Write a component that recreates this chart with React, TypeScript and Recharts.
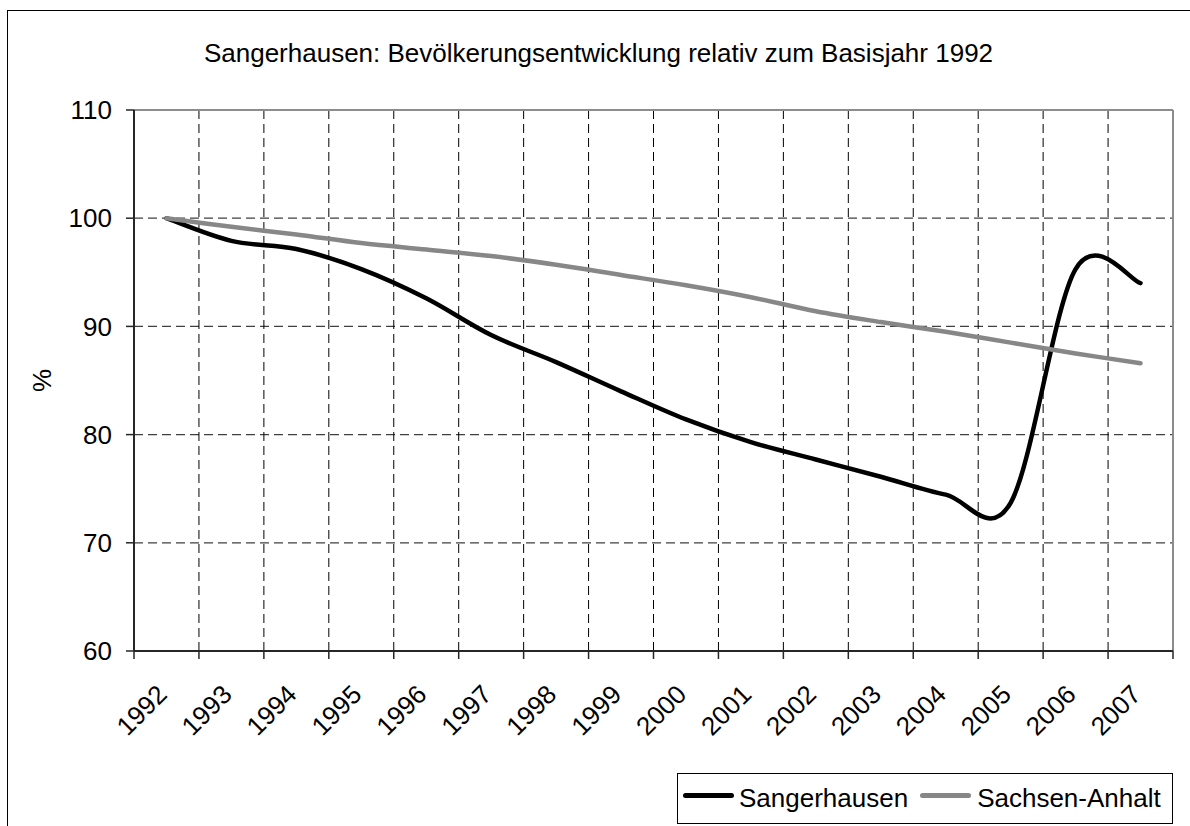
import React from 'react';
import { LineChart, Line, XAxis, YAxis, CartesianGrid, ReferenceLine } from 'recharts';

const years = ['1992', '1993', '1994', '1995', '1996', '1997', '1998', '1999', '2000', '2001', '2002', '2003', '2004', '2005', '2006', '2007'];
const sangerhausen = [100, 97.9, 97.15, 95.3, 92.6, 89.2, 86.7, 84.0, 81.4, 79.3, 77.7, 76.1, 74.45, 73.7, 95.3, 94.0];
const sachsenAnhalt = [100, 99.2, 98.5, 97.7, 97.1, 96.5, 95.7, 94.75, 93.8, 92.7, 91.4, 90.4, 89.5, 88.5, 87.5, 86.6];
const yTicks = [60, 70, 80, 90, 100, 110];

const FONT = '"Liberation Sans", Arial, sans-serif';
const CHART_W = 1190;
const CHART_H = 826;
const MARGIN = { top: 110, right: 17, left: 74, bottom: 95 };
const Y_AXIS_W = 60;
const CAT_W = (CHART_W - MARGIN.left - Y_AXIS_W - MARGIN.right) / years.length;

const data = years.map((year, i) => ({
    idx: i,
    year,
    sangerhausen: sangerhausen[i],
    sachsenAnhalt: sachsenAnhalt[i],
}));

// category boundaries, so grid lines and tick marks fall between the years like in Excel
const bounds = years.map((_, i) => i - 0.5).concat(years.length - 0.5);

// Excel-like smoothed line (Catmull-Rom as cubic bezier)
function excelSmooth(context: any) {
    let pts: [number, number][] = [];
    return {
        areaStart() {},
        areaEnd() {},
        lineStart() {
            pts = [];
        },
        lineEnd() {
            const n = pts.length;
            if (!n) return;
            context.moveTo(pts[0][0], pts[0][1]);
            for (let i = 0; i < n - 1; i++) {
                const p0 = pts[Math.max(i - 1, 0)];
                const p1 = pts[i];
                const p2 = pts[i + 1];
                const p3 = pts[Math.min(i + 2, n - 1)];
                context.bezierCurveTo(
                    p1[0] + (p2[0] - p0[0]) / 6,
                    p1[1] + (p2[1] - p0[1]) / 6,
                    p2[0] - (p3[0] - p1[0]) / 6,
                    p2[1] - (p3[1] - p1[1]) / 6,
                    p2[0],
                    p2[1]
                );
            }
        },
        point(x: number, y: number) {
            pts.push([+x, +y]);
        },
    };
}

function renderYearTick(props: any) {
    const { x, y, payload } = props;
    const i = Math.round(payload.value + 0.5);
    if (i < 0 || i >= years.length) return <g />;
    const ax = x + CAT_W / 2 + 2;
    const ay = y + 35;
    return (
        <text
            x={ax}
            y={ay}
            textAnchor="end"
            fontSize={26}
            fontFamily={FONT}
            fill="#000"
            transform={`rotate(-45, ${ax}, ${ay})`}
        >
            {years[i]}
        </text>
    );
}

function renderPercent(props: any) {
    const vb = props.viewBox || { x: MARGIN.left, y: MARGIN.top, height: 541 };
    const cx = vb.x - 32;
    const cy = vb.y + vb.height / 2;
    return (
        <text
            x={cx}
            y={cy}
            textAnchor="middle"
            dominantBaseline="central"
            fontSize={26}
            fontFamily={FONT}
            fill="#000"
            transform={`rotate(-90, ${cx}, ${cy})`}
        >
            %
        </text>
    );
}

export default function App() {
    return (
        <div style={{ position: 'relative', width: CHART_W, height: CHART_H, background: '#fff', fontFamily: FONT }}>
            <style>{`body{margin:0;overflow:hidden;background:#fff}`}</style>
            <div
                style={{
                    position: 'absolute',
                    left: 7,
                    top: 10,
                    width: 1200,
                    height: 900,
                    border: '1px solid #000',
                    boxSizing: 'border-box',
                }}
            />
            <div
                style={{
                    position: 'absolute',
                    left: 98.5,
                    top: 39.5,
                    width: 1000,
                    textAlign: 'center',
                    fontSize: 26,
                    lineHeight: '26px',
                    color: '#000',
                    whiteSpace: 'nowrap',
                }}
            >
                Sangerhausen: Bevölkerungsentwicklung relativ zum Basisjahr 1992
            </div>
            <div style={{ position: 'absolute', left: 0, top: 0 }}>
                <LineChart width={CHART_W} height={CHART_H} data={data} margin={MARGIN}>
                    <CartesianGrid vertical={false} stroke="#404040" strokeWidth={1.3} strokeDasharray="9 5" />
                    <CartesianGrid horizontal={false} stroke="#000" strokeWidth={1} strokeDasharray="9 5" />
                    <XAxis
                        type="number"
                        dataKey="idx"
                        domain={[-0.5, years.length - 0.5]}
                        ticks={bounds}
                        interval={0}
                        height={80}
                        tickSize={8}
                        axisLine={{ stroke: '#262626', strokeWidth: 2 }}
                        tickLine={{ stroke: '#262626', strokeWidth: 1.5 }}
                        tick={renderYearTick}
                    />
                    <YAxis
                        type="number"
                        domain={[60, 110]}
                        ticks={yTicks}
                        interval={0}
                        width={Y_AXIS_W}
                        tickSize={8}
                        tickMargin={14}
                        tick={{ fill: '#000', fontSize: 26, fontFamily: FONT }}
                        axisLine={{ stroke: '#262626', strokeWidth: 2 }}
                        tickLine={{ stroke: '#262626', strokeWidth: 1.5 }}
                        label={renderPercent}
                    />
                    <ReferenceLine y={110} stroke="#8c8c8c" strokeWidth={2} />
                    <ReferenceLine x={years.length - 0.5} stroke="#8c8c8c" strokeWidth={2} />
                    <Line
                        dataKey="sangerhausen"
                        name="Sangerhausen"
                        type={excelSmooth as any}
                        stroke="#000"
                        strokeWidth={4.5}
                        strokeLinecap="round"
                        dot={false}
                        activeDot={false}
                        isAnimationActive={false}
                    />
                    <Line
                        dataKey="sachsenAnhalt"
                        name="Sachsen-Anhalt"
                        type={excelSmooth as any}
                        stroke="#878787"
                        strokeWidth={4.5}
                        strokeLinecap="round"
                        dot={false}
                        activeDot={false}
                        isAnimationActive={false}
                    />
                </LineChart>
            </div>
            <div
                style={{
                    position: 'absolute',
                    left: 677,
                    top: 773,
                    width: 496,
                    height: 51,
                    border: '1px solid #000',
                    boxSizing: 'border-box',
                    background: '#fff',
                    display: 'flex',
                    alignItems: 'center',
                    fontSize: 26,
                    color: '#000',
                    whiteSpace: 'nowrap',
                }}
            >
                <span style={{ display: 'inline-block', width: 51, height: 5, borderRadius: 3, background: '#000', marginLeft: 5, marginRight: 5, marginTop: -6 }} />
                <span>Sangerhausen</span>
                <span style={{ display: 'inline-block', width: 51, height: 5, borderRadius: 3, background: '#878787', marginLeft: 12, marginRight: 6, marginTop: -6 }} />
                <span>Sachsen-Anhalt</span>
            </div>
        </div>
    );
}
